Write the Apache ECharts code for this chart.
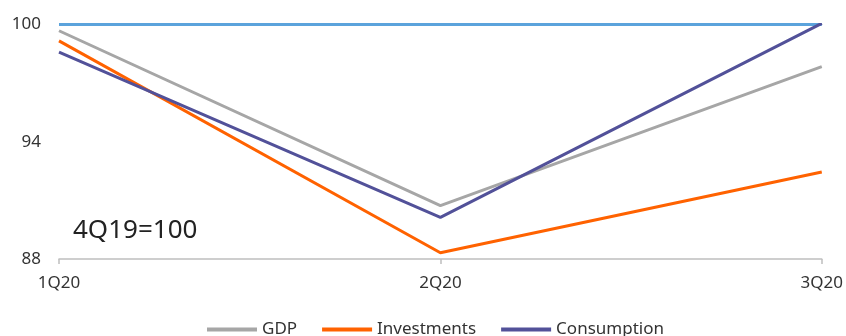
<!DOCTYPE html>
<html>
<head>
<meta charset="utf-8">
<script src="https://cdn.jsdelivr.net/npm/echarts@6/dist/echarts.min.js"></script>
<style>
  html, body { margin: 0; padding: 0; background: #fff; }
  #chart { width: 846px; height: 336px; }
</style>
</head>
<body>
<div id="chart"></div>
<script>
const quarters = ["1Q20", "2Q20", "3Q20"];
const gdp = [99.68, 90.73, 97.84];
const investments = [99.16, 88.32, 92.45];
const consumption = [98.59, 90.13, 100.06];
const baseline = [100, 100, 100];

const font = "'Noto Sans', sans-serif";
const chart = echarts.init(document.getElementById("chart"));

const line = (name, data, color, z) => ({
  name,
  type: "line",
  data,
  symbol: "none",
  z,
  lineStyle: { color, width: 3 },
  itemStyle: { color },
});

chart.setOption({
  animation: false,
  backgroundColor: "#fff",
  grid: { left: 59, right: 23, top: 24.5, bottom: 77 },
  textStyle: { fontFamily: font },
  xAxis: {
    type: "category",
    data: quarters,
    boundaryGap: false,
    axisLine: { lineStyle: { color: "#bfbfbf", width: 1.5 } },
    axisTick: { show: true, length: 5, lineStyle: { color: "#bfbfbf", width: 1.5 } },
    axisLabel: { color: "#333", fontSize: 17, margin: 16, fontFamily: font },
  },
  yAxis: {
    type: "value",
    min: 88,
    max: 100,
    interval: 6,
    axisLine: { show: false },
    axisTick: { show: false },
    splitLine: { show: false },
    axisLabel: { color: "#333", fontSize: 17, margin: 18, fontFamily: font },
  },
  legend: {
    data: ["GDP", "Investments", "Consumption"],
    left: 207,
    top: 321,
    padding: 0,
    icon: "rect",
    itemWidth: 50,
    itemHeight: 4,
    itemGap: 25,
    textStyle: { color: "#333", fontSize: 17, fontFamily: font },
  },
  graphic: [
    {
      type: "text",
      left: 73,
      top: 218,
      style: { text: "4Q19=100", fill: "#222", font: "26px 'Noto Sans', sans-serif" },
    },
  ],
  series: [
    line("baseline", baseline, "#5BA3DC", 1),
    line("GDP", gdp, "#A6A6A6", 2),
    line("Investments", investments, "#FF6200", 3),
    line("Consumption", consumption, "#525199", 4),
  ],
});
</script>
</body>
</html>
